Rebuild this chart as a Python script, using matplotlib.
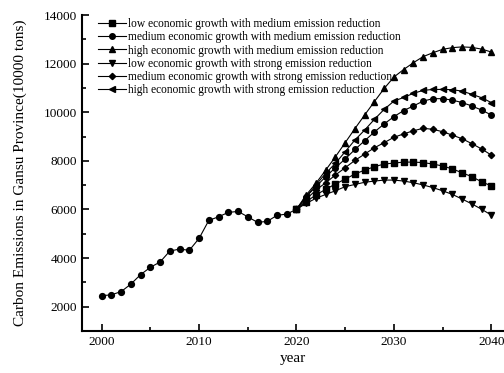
import numpy as np
import matplotlib.pyplot as plt

plt.rcParams["font.family"] = ["Liberation Serif", "DejaVu Serif"]

hist_years = list(range(2000, 2021))
hist_vals = [2450, 2490, 2620, 2930, 3320, 3620, 3840, 4290, 4370, 4320,
             4810, 5550, 5700, 5880, 5920, 5700, 5470, 5510, 5760, 5810, 6010]

proj_years = list(range(2020, 2041))

low_medium = [6010, 6320, 6600, 6830, 7050, 7250, 7460, 7620, 7760, 7870, 7910,
              7950, 7950, 7930, 7870, 7790, 7670, 7510, 7350, 7140, 6970]
medium_medium = [6010, 6530, 6940, 7350, 7720, 8080, 8470, 8830, 9190, 9520, 9820,
                 10070, 10260, 10460, 10560, 10560, 10500, 10400, 10260, 10090, 9890]
high_medium = [6010, 6600, 7080, 7620, 8170, 8750, 9330, 9890, 10440, 10980, 11450,
               11760, 12040, 12290, 12450, 12590, 12660, 12690, 12670, 12600, 12480]
low_strong = [6010, 6250, 6460, 6620, 6770, 6940, 7030, 7120, 7170, 7210, 7210,
              7170, 7100, 7010, 6900, 6770, 6620, 6430, 6230, 6010, 5770]
medium_strong = [6010, 6420, 6800, 7100, 7420, 7720, 8020, 8280, 8540, 8750, 8970,
                 9110, 9240, 9340, 9300, 9200, 9060, 8910, 8710, 8490, 8240]
high_strong = [6010, 6530, 7010, 7490, 7900, 8380, 8860, 9270, 9710, 10120, 10460,
               10610, 10780, 10900, 10940, 10940, 10930, 10870, 10740, 10600, 10400]

scenarios = [
    ("low economic growth with medium emission reduction", low_medium, "s"),
    ("medium economic growth with medium emission reduction", medium_medium, "o"),
    ("high economic growth with medium emission reduction", high_medium, "^"),
    ("low economic growth with strong emission reduction", low_strong, "v"),
    ("medium economic growth with strong emission reduction", medium_strong, "D"),
    ("high economic growth with strong emission reduction", high_strong, "<"),
]

fig = plt.figure(figsize=(5.04, 3.73), dpi=100)
ax = fig.add_axes([0.163, 0.1126, 0.837, 0.847])

ax.plot(hist_years, hist_vals, color="black", lw=0.8, marker="o", ms=4.2)
for label, vals, mk in scenarios:
    ms = 3.2 if mk == "D" else 4.0
    ax.plot(proj_years, vals, color="black", lw=0.8, marker=mk, ms=ms, label=label)

ax.set_xlim(1998, 2041.3)
ax.set_ylim(1000, 14000)
ax.set_xticks([2000, 2010, 2020, 2030, 2040])
ax.set_xticks([2005, 2015, 2025, 2035], minor=True)
ax.set_yticks(np.arange(2000, 14001, 2000))
ax.set_yticks(np.arange(3000, 14000, 2000), minor=True)
ax.tick_params(which="both", direction="in", width=1.2, labelsize=9.5)
ax.tick_params(which="major", length=5)
ax.tick_params(which="minor", length=3)
ax.spines["top"].set_visible(False)
ax.spines["right"].set_visible(False)
for s in ("left", "bottom"):
    ax.spines[s].set_linewidth(1.5)

ax.set_xlabel("year", fontsize=11, labelpad=3)
ax.set_ylabel("Carbon Emissions in Gansu Province(10000 tons)", fontsize=11, labelpad=12)

ax.legend(loc="upper left", bbox_to_anchor=(0.02, 1.012), frameon=False,
          fontsize=8.3, handlelength=2.5, handletextpad=0.15, labelspacing=0.1,
          borderaxespad=0.2)

fig.savefig("out.png", dpi=100)
